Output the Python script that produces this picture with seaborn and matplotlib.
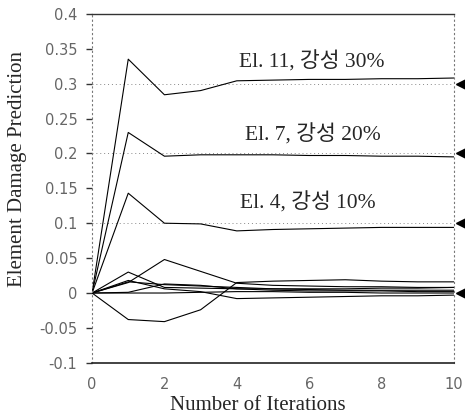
import seaborn as sns
import pandas as pd
import numpy as np
import matplotlib.pyplot as plt
import matplotlib.transforms as mtransforms

# 반복 횟수
iterations = list(range(11))

# 손상 요소 (El. 11, 7, 4)
el11 = [0, 0.335, 0.284, 0.290, 0.304, 0.305, 0.306, 0.306, 0.307, 0.307, 0.308]
el7 = [0, 0.230, 0.196, 0.198, 0.198, 0.198, 0.197, 0.197, 0.196, 0.196, 0.195]
el4 = [0, 0.143, 0.100, 0.099, 0.089, 0.091, 0.092, 0.093, 0.094, 0.094, 0.094]

# 손상 없는 요소들
s_a = [0, 0.030, 0.008, 0.007, 0.006, 0.006, 0.006, 0.006, 0.007, 0.007, 0.008]
s_b = [0, 0.015, 0.048, 0.031, 0.014, 0.011, 0.010, 0.009, 0.009, 0.008, 0.008]
s_c = [0, -0.038, -0.041, -0.024, 0.015, 0.017, 0.018, 0.019, 0.017, 0.016, 0.016]
s_d = [0, 0.016, 0.012, 0.010, 0.008, 0.006, 0.005, 0.004, 0.004, 0.004, 0.004]
s_e = [0, 0.001, 0.013, 0.011, 0.006, 0.004, 0.003, 0.003, 0.003, 0.002, 0.002]
s_f = [0, 0.018, 0.006, 0.002, -0.008, -0.007, -0.006, -0.005, -0.004, -0.004, -0.003]
s_g = [0, 0.000, 0.000, 0.001, 0.002, 0.002, 0.001, 0.001, 0.000, 0.000, 0.000]

# 실제 손상량
true_damage = [0.3, 0.2, 0.1, 0.0]
labels = ['El. 11, 강성 30%', 'El. 7, 강성 20%', 'El. 4, 강성 10%']
label_pos = [(6.07, 0.331), (6.09, 0.226), (5.95, 0.1285)]

yticks = [-0.1, -0.05, 0, 0.05, 0.1, 0.15, 0.2, 0.25, 0.3, 0.35, 0.4]
ytick_labels = ['-0.1', '-0.05', '0', '0.05', '0.1', '0.15', '0.2', '0.25', '0.3', '0.35', '0.4']

series = {'el11': el11, 'el7': el7, 'el4': el4, 'a': s_a, 'b': s_b, 'c': s_c,
          'd': s_d, 'e': s_e, 'f': s_f, 'g': s_g}
df = pd.concat([pd.DataFrame({'iter': iterations, 'value': v, 'elem': k})
                for k, v in series.items()], ignore_index=True)

sns.set_style('white', {'ytick.left': True})
plt.rcParams['font.family'] = ['Liberation Serif', 'Noto Sans CJK KR']
plt.rcParams['ytick.major.size'] = 4.5

fig = plt.figure(figsize=(4.65, 4.18), dpi=100)
ax = fig.add_axes([0.198, 0.132, 0.778, 0.835])

sns.lineplot(data=df, x='iter', y='value', units='elem', estimator=None,
             color='black', lw=0.8, ax=ax)

for v in true_damage[:3]:
    ax.axhline(v, color='#888888', lw=0.7, ls=(0, (1, 3)), zorder=0)

trans = mtransforms.blended_transform_factory(ax.transAxes, ax.transData)
ax.plot([1.02] * len(true_damage), true_damage, marker='<', ls='none',
        color='black', ms=7, transform=trans, clip_on=False)

for t, (x, y) in zip(labels, label_pos):
    ax.text(x, y, t, ha='center', va='center', fontsize=15.5)

ax.set_xlim(0, 10)
ax.set_ylim(-0.1, 0.4)
ax.set_xticks(range(0, 11, 2))
ax.set_yticks(yticks)
ax.set_yticklabels(ytick_labels)

for lab in ax.get_xticklabels() + ax.get_yticklabels():
    lab.set_family('DejaVu Sans')
    lab.set_color('#666666')
    lab.set_fontsize(10.5)

ax.tick_params(axis='y', left=True, length=4.5, width=1.0, color='#333333', pad=6)
ax.tick_params(axis='x', bottom=False, pad=7)

ax.set_xlabel('Number of Iterations', fontsize=15)
ax.set_ylabel('Element Damage Prediction', fontsize=15)
ax.xaxis.set_label_coords(0.457, -0.095)
ax.yaxis.set_label_coords(-0.18, 0.556)

for side in ['left', 'right']:
    ax.spines[side].set_linestyle((0, (1, 3)))
    ax.spines[side].set_color('#777777')
    ax.spines[side].set_linewidth(0.8)
ax.spines['top'].set_linestyle((0, (4, 1)))
ax.spines['top'].set_color('#333333')
ax.spines['top'].set_linewidth(1.0)
ax.spines['bottom'].set_color('#222222')
ax.spines['bottom'].set_linewidth(1.2)

fig.savefig('out.png', dpi=100)
